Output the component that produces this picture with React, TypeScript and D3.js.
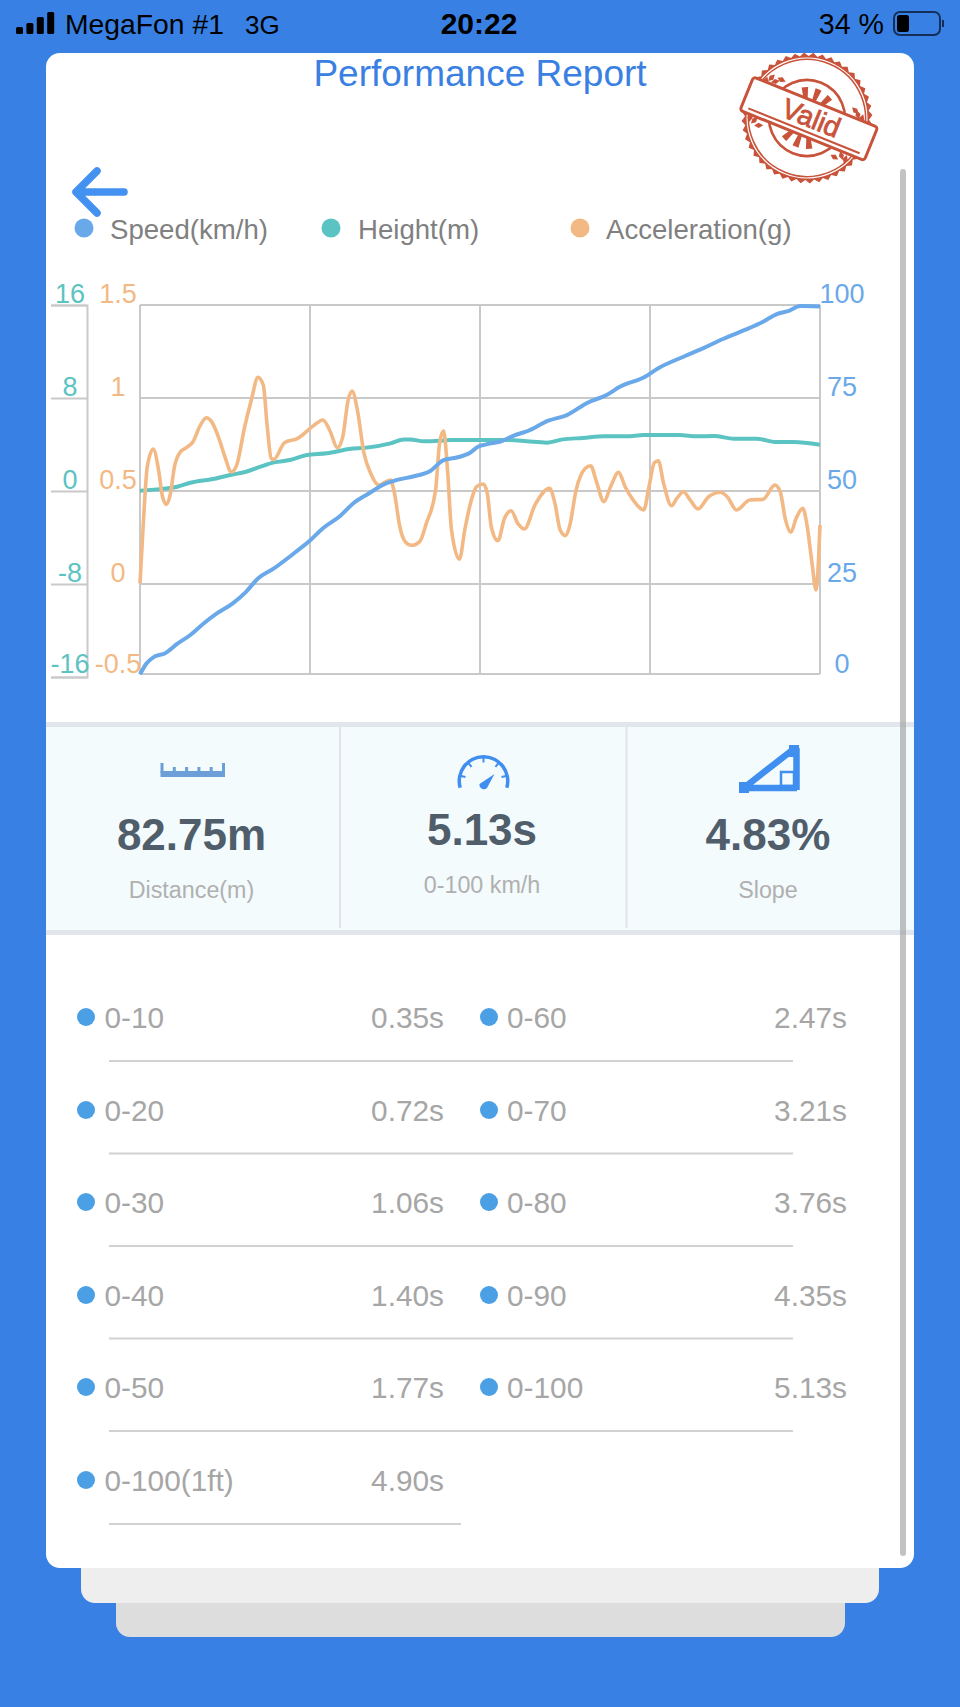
import * as d3 from 'd3';
import React, { useEffect, useRef } from 'react';

const speedTime = [0, 0.05, 0.11, 0.19, 0.28, 0.38, 0.48, 0.58, 0.7, 0.8, 0.89, 1.01, 1.16, 1.28, 1.38, 1.51, 1.61, 1.72, 1.86, 1.94, 2.06, 2.19, 2.29, 2.39, 2.49, 2.55, 2.62, 2.72, 2.82, 2.93, 3.08, 3.22, 3.38, 3.52, 3.62, 3.81, 3.91, 4.1, 4.25, 4.38, 4.55, 4.7, 4.8, 4.9, 4.98, 5.13];
const speedValues = [0.7, 3.7, 5.5, 6.4, 8.9, 11.3, 14.4, 17.1, 19.8, 22.9, 26.5, 29.2, 33.2, 36.6, 40, 43.3, 46.7, 49.2, 52.1, 53, 53.9, 55.4, 58.3, 59, 60.3, 61.9, 62.6, 63.3, 64.9, 66.2, 68.9, 70.4, 73.8, 75.8, 78, 80.7, 83, 86.1, 88.4, 90.6, 93.1, 95.5, 97.5, 98.5, 99.7, 99.6];

const heightTime = [0, 0.13, 0.28, 0.38, 0.55, 0.68, 0.8, 0.91, 1.01, 1.13, 1.26, 1.41, 1.58, 1.71, 1.89, 1.99, 2.04, 2.14, 2.26, 2.34, 2.55, 2.62, 2.79, 2.92, 3.07, 3.19, 3.34, 3.5, 3.67, 3.8, 4.07, 4.2, 4.33, 4.48, 4.65, 4.8, 4.93, 5.13];
const heightValues = [0.03, 0.14, 0.37, 0.71, 1.03, 1.37, 1.66, 2.09, 2.46, 2.66, 3.09, 3.24, 3.61, 3.73, 4.1, 4.44, 4.44, 4.27, 4.33, 4.38, 4.38, 4.38, 4.38, 4.27, 4.16, 4.44, 4.56, 4.7, 4.7, 4.81, 4.81, 4.7, 4.73, 4.5, 4.5, 4.21, 4.21, 3.98];

const accelTime = [0, 0.025, 0.055, 0.1, 0.14, 0.17, 0.2, 0.23, 0.26, 0.3, 0.35, 0.4, 0.45, 0.5, 0.54, 0.6, 0.64, 0.69, 0.73, 0.79, 0.84, 0.89, 0.93, 0.96, 0.99, 1.01, 1.09, 1.19, 1.3, 1.38, 1.43, 1.49, 1.53, 1.57, 1.6, 1.64, 1.69, 1.74, 1.8, 1.89, 1.92, 1.96, 2, 2.05, 2.11, 2.16, 2.23, 2.26, 2.29, 2.32, 2.35, 2.41, 2.45, 2.5, 2.54, 2.59, 2.62, 2.65, 2.7, 2.75, 2.8, 2.85, 2.9, 2.98, 3.09, 3.13, 3.17, 3.21, 3.24, 3.29, 3.36, 3.4, 3.44, 3.5, 3.55, 3.61, 3.66, 3.72, 3.8, 3.84, 3.88, 3.91, 3.95, 4.01, 4.05, 4.1, 4.15, 4.21, 4.29, 4.38, 4.43, 4.5, 4.6, 4.7, 4.79, 4.83, 4.87, 4.91, 4.95, 5, 5.03, 5.07, 5.1, 5.13];
const accelValues = [0.004, 0.326, 0.631, 0.726, 0.613, 0.469, 0.428, 0.487, 0.631, 0.706, 0.733, 0.765, 0.846, 0.894, 0.873, 0.774, 0.685, 0.602, 0.64, 0.846, 0.989, 1.111, 1.07, 0.846, 0.676, 0.67, 0.76, 0.783, 0.846, 0.882, 0.828, 0.733, 0.792, 0.989, 1.038, 0.935, 0.702, 0.595, 0.532, 0.559, 0.487, 0.308, 0.228, 0.208, 0.228, 0.326, 0.505, 0.756, 0.824, 0.613, 0.29, 0.133, 0.29, 0.452, 0.523, 0.538, 0.487, 0.308, 0.233, 0.353, 0.394, 0.326, 0.296, 0.425, 0.514, 0.434, 0.29, 0.26, 0.308, 0.505, 0.622, 0.636, 0.559, 0.443, 0.523, 0.6, 0.523, 0.452, 0.398, 0.523, 0.652, 0.663, 0.541, 0.421, 0.46, 0.496, 0.452, 0.403, 0.469, 0.493, 0.469, 0.398, 0.452, 0.455, 0.532, 0.496, 0.344, 0.278, 0.353, 0.407, 0.326, 0.111, -0.032, 0.317];

const timeTicks = [0, 1.2825, 2.565, 3.8475, 5.13];
const speedTicks = [0, 25, 50, 75, 100];
const heightTicks = [-16, -8, 0, 8, 16];
const accelTicks = [-0.5, 0, 0.5, 1, 1.5];

const legendLabels = ['Speed(km/h)', 'Height(m)', 'Acceleration(g)'];
const statValues = ['82.75m', '5.13s', '4.83%'];
const statLabels = ['Distance(m)', '0-100 km/h', 'Slope'];
const leftSplits = ['0-10', '0-20', '0-30', '0-40', '0-50', '0-100(1ft)'];
const leftTimes = ['0.35s', '0.72s', '1.06s', '1.40s', '1.77s', '4.90s'];
const rightSplits = ['0-60', '0-70', '0-80', '0-90', '0-100'];
const rightTimes = ['2.47s', '3.21s', '3.76s', '4.35s', '5.13s'];

const FONT = '"Liberation Sans", Arial, sans-serif';
const SPEED = '#6aa9e9';
const HEIGHT = '#5cc3c3';
const ACCEL = '#f3b985';
const GRID = '#c9c9c9';
const RUST = '#c8533a';
const ICON = '#3f8ef0';

const plot = { left: 140, right: 820, top: 305, bottom: 674, scaleBottom: 677 };

export default function App(): React.JSX.Element {
	const ref = useRef<SVGSVGElement | null>(null);

	useEffect(() => {
		if (ref.current === null) return;
		const svg = d3.select(ref.current);
		svg.selectAll('*').remove();

		const addText = (parent: any, x: number, y: number, text: string, size: number, fill: string, anchor = 'start', weight = 'normal') =>
			parent.append('text')
				.attr('x', x)
				.attr('y', y)
				.attr('font-size', size)
				.attr('fill', fill)
				.attr('text-anchor', anchor)
				.attr('font-weight', weight)
				.text(text);

		// page + stacked cards
		svg.append('rect').attr('width', 960).attr('height', 1707).attr('fill', '#3880e4');
		svg.append('rect').attr('x', 116).attr('y', 1560).attr('width', 729).attr('height', 77).attr('rx', 14).attr('fill', '#dddddd');
		svg.append('rect').attr('x', 81).attr('y', 1530).attr('width', 798).attr('height', 73).attr('rx', 14).attr('fill', '#eeeeee');
		svg.append('rect').attr('x', 46).attr('y', 53).attr('width', 868).attr('height', 1515).attr('rx', 14).attr('fill', '#ffffff');

		const defs = svg.append('defs');
		defs.append('clipPath').attr('id', 'card-clip')
			.append('rect').attr('x', 46).attr('y', 53).attr('width', 868).attr('height', 1515);

		// status bar
		const signal = [27, 23, 17, 12];
		svg.selectAll('rect.signal').data(signal).enter().append('rect')
			.attr('class', 'signal')
			.attr('x', (_, i) => 16 + i * 10.4)
			.attr('y', (d) => d)
			.attr('width', 7)
			.attr('height', (d) => 34 - d)
			.attr('rx', 1.5)
			.attr('fill', '#000');
		addText(svg, 65, 34, 'MegaFon #1', 28.3, '#000');
		addText(svg, 245, 34, '3G', 26, '#000');
		addText(svg, 479, 34, '20:22', 30, '#000', 'middle', 'bold');
		addText(svg, 884, 34, '34 %', 28.6, '#000', 'end');
		svg.append('rect').attr('x', 894).attr('y', 12).attr('width', 46).attr('height', 23).attr('rx', 6).attr('fill', 'none').attr('stroke', '#14305a').attr('stroke-width', 2);
		svg.append('rect').attr('x', 897).attr('y', 15).attr('width', 12).attr('height', 17).attr('rx', 2.5).attr('fill', '#000');
		svg.append('rect').attr('x', 942).attr('y', 20).attr('width', 2).attr('height', 7).attr('fill', '#14305a');

		addText(svg, 480, 86, 'Performance Report', 37, '#3a80e2', 'middle');

		// stamp
		const stamp = svg.append('g').attr('clip-path', 'url(#card-clip)')
			.append('g').attr('transform', 'translate(807,118) rotate(22)');
		const teeth = d3.range(0, 88);
		stamp.append('path')
			.attr('d', d3.lineRadial<number>()
				.angle((d) => (d / 88) * 2 * Math.PI)
				.radius((d) => (d % 2 === 0 ? 65.5 : 62))
				.curve(d3.curveLinearClosed)(teeth))
			.attr('fill', RUST);
		stamp.append('circle').attr('r', 60.5).attr('fill', '#fff');
		stamp.append('circle').attr('r', 58.5).attr('fill', 'none').attr('stroke', RUST).attr('stroke-width', 1.5);
		stamp.append('circle').attr('r', 38).attr('fill', 'none').attr('stroke', RUST).attr('stroke-width', 2.6);
		const rayArc = d3.arc<number>()
			.innerRadius(18)
			.outerRadius(31)
			.startAngle((d) => ((d - 6) * Math.PI) / 180)
			.endAngle((d) => ((d + 6) * Math.PI) / 180);
		stamp.selectAll('path.ray').data([-26, 0, 26, 154, 180, 206]).enter().append('path')
			.attr('class', 'ray')
			.attr('d', (d) => rayArc(d))
			.attr('fill', RUST);
		const flecks = [[-48, -24], [-43, -22], [-38, -26], [-52, -19], [46, -22], [51, -20], [42, -25], [-48, 22], [-53, 21], [-42, 25], [46, 22], [40, 26], [51, 24]];
		stamp.selectAll('path.fleck').data(flecks).enter().append('path')
			.attr('class', 'fleck')
			.attr('transform', (d) => `translate(${d[0]},${d[1]}) rotate(${d[0] * 7})`)
			.attr('d', d3.symbol().type(d3.symbolDiamond).size(24)())
			.attr('fill', RUST);
		stamp.append('rect').attr('x', -65).attr('y', -18).attr('width', 134).attr('height', 36).attr('rx', 3).attr('fill', '#fff').attr('stroke', RUST).attr('stroke-width', 3);
		stamp.append('line').attr('x1', -58).attr('x2', 62).attr('y1', 13).attr('y2', 13).attr('stroke', RUST).attr('stroke-width', 2);
		addText(stamp, 4, 8, 'Valid', 28, RUST, 'middle').attr('stroke', RUST).attr('stroke-width', 0.8);

		// back arrow
		svg.append('path')
			.attr('d', 'M124,192 H76 M97,171 L76,192 L97,213')
			.attr('fill', 'none')
			.attr('stroke', '#4391f0')
			.attr('stroke-width', 7.5)
			.attr('stroke-linecap', 'round')
			.attr('stroke-linejoin', 'round');

		// legend
		const legendDot = [84, 331, 580];
		const legendText = [110, 358, 606];
		const legendColor = [SPEED, HEIGHT, ACCEL];
		legendLabels.forEach((label, i) => {
			svg.append('circle').attr('cx', legendDot[i]).attr('cy', 228).attr('r', 9.5).attr('fill', legendColor[i]);
			addText(svg, legendText[i], 239, label, 27.6, '#808080');
		});

		// chart
		const xScale = d3.scaleLinear().domain([0, 5.13]).range([plot.left, plot.right]);
		const speedScale = d3.scaleLinear().domain([0, 100]).range([plot.scaleBottom, plot.top]);
		const heightScale = d3.scaleLinear().domain([-16, 16]).range([plot.scaleBottom, plot.top]);
		const accelScale = d3.scaleLinear().domain([-0.5, 1.5]).range([plot.scaleBottom, plot.top]);

		const chart = svg.append('g').attr('font-family', FONT);
		chart.selectAll('line.vgrid').data(timeTicks).enter().append('line')
			.attr('class', 'vgrid')
			.attr('x1', (d) => xScale(d))
			.attr('x2', (d) => xScale(d))
			.attr('y1', plot.top)
			.attr('y2', plot.bottom)
			.attr('stroke', GRID)
			.attr('stroke-width', 2);
		chart.selectAll('line.hgrid').data(speedTicks.slice(1)).enter().append('line')
			.attr('class', 'hgrid')
			.attr('x1', plot.left)
			.attr('x2', plot.right)
			.attr('y1', (d) => speedScale(d))
			.attr('y2', (d) => speedScale(d))
			.attr('stroke', GRID)
			.attr('stroke-width', 2);
		chart.append('line')
			.attr('x1', plot.left).attr('x2', plot.right)
			.attr('y1', plot.bottom).attr('y2', plot.bottom)
			.attr('stroke', GRID).attr('stroke-width', 2);

		// height axis sits apart from the plot on the left
		const heightAxis = chart.append('g')
			.attr('transform', 'translate(87,0)')
			.call(d3.axisLeft(heightScale).tickValues(heightTicks).tickSize(36).tickFormat((d) => String(d)));
		heightAxis.select('.domain').attr('stroke', GRID).attr('stroke-width', 2);
		heightAxis.selectAll('.tick line').attr('stroke', GRID).attr('stroke-width', 2);
		heightAxis.selectAll('.tick text')
			.attr('x', -17)
			.attr('y', (d) => (d === -16 ? -5 : -3))
			.attr('dy', 0)
			.attr('text-anchor', 'middle')
			.attr('font-size', 27)
			.attr('font-family', FONT)
			.attr('fill', HEIGHT);

		const accelAxis = chart.append('g')
			.attr('transform', 'translate(118,0)')
			.call(d3.axisLeft(accelScale).tickValues(accelTicks).tickSize(0).tickFormat((d) => String(d)));
		accelAxis.select('.domain').remove();
		accelAxis.selectAll('.tick text')
			.attr('x', 0)
			.attr('y', (d) => (d === -0.5 ? -5 : -3))
			.attr('dy', 0)
			.attr('text-anchor', 'middle')
			.attr('font-size', 27)
			.attr('font-family', FONT)
			.attr('fill', ACCEL);

		const speedAxis = chart.append('g')
			.attr('transform', 'translate(842,0)')
			.call(d3.axisRight(speedScale).tickValues(speedTicks).tickSize(0).tickFormat((d) => String(d)));
		speedAxis.select('.domain').remove();
		speedAxis.selectAll('.tick text')
			.attr('x', 0)
			.attr('y', (d) => (d === 0 ? -5 : -3))
			.attr('dy', 0)
			.attr('text-anchor', 'middle')
			.attr('font-size', 27)
			.attr('font-family', FONT)
			.attr('fill', SPEED);

		const drawSeries = (time: number[], values: number[], scale: d3.ScaleLinear<number, number>, color: string, width: number) => {
			const line = d3.line<number>()
				.x((_, i) => xScale(time[i]))
				.y((d) => scale(d))
				.curve(d3.curveMonotoneX);
			chart.append('path')
				.attr('d', line(values))
				.attr('fill', 'none')
				.attr('stroke', color)
				.attr('stroke-width', width)
				.attr('stroke-linejoin', 'round');
		};
		drawSeries(heightTime, heightValues, heightScale, HEIGHT, 4);
		drawSeries(accelTime, accelValues, accelScale, ACCEL, 3.6);
		drawSeries(speedTime, speedValues, speedScale, SPEED, 4);

		// stats band
		svg.append('rect').attr('x', 46).attr('y', 724).attr('width', 868).attr('height', 209).attr('fill', '#f3fbfd');
		[724.5, 932.5].forEach((y) => {
			svg.append('line').attr('x1', 46).attr('x2', 914).attr('y1', y).attr('y2', y).attr('stroke', '#e0e6ec').attr('stroke-width', 5);
		});
		[340, 626.5].forEach((x) => {
			svg.append('line').attr('x1', x).attr('x2', x).attr('y1', 727).attr('y2', 928).attr('stroke', '#dfe5ea').attr('stroke-width', 2);
		});
		const statX = [191.5, 482, 768];
		const statBase = [850, 845, 850];
		const labelBase = [898, 893, 898];
		statValues.forEach((value, i) => {
			addText(svg, statX[i], statBase[i], value, 44, '#505d6b', 'middle', 'bold');
			addText(svg, statX[i], labelBase[i], statLabels[i], 23.3, '#b0b0b0', 'middle');
		});

		// ruler icon
		const rulerTicks = d3.range(0, 6);
		svg.append('rect').attr('x', 160.5).attr('y', 771).attr('width', 64.5).attr('height', 6).attr('fill', '#6c9fd8');
		svg.selectAll('rect.ruler').data(rulerTicks).enter().append('rect')
			.attr('class', 'ruler')
			.attr('x', (d) => 160.5 + d * 12.3)
			.attr('y', (d) => (d === 0 || d === 5 ? 763 : 767))
			.attr('width', 3)
			.attr('height', (d) => (d === 0 || d === 5 ? 10 : 6))
			.attr('fill', '#6c9fd8');

		// gauge icon
		const gauge = svg.append('g').attr('transform', 'translate(483.5,781)');
		gauge.append('path')
			.attr('d', d3.arc()({ innerRadius: 22.5, outerRadius: 26, startAngle: -1.85, endAngle: 1.85 }))
			.attr('fill', ICON);
		gauge.selectAll('line').data([-1.35, -0.7, 0, 0.7, 1.35]).enter().append('line')
			.attr('x1', (d) => 23 * Math.sin(d))
			.attr('y1', (d) => -23 * Math.cos(d))
			.attr('x2', (d) => 18.5 * Math.sin(d))
			.attr('y2', (d) => -18.5 * Math.cos(d))
			.attr('stroke', ICON)
			.attr('stroke-width', 2);
		gauge.append('path').attr('d', 'M-4,3 L11,-7 L3.5,7 A4.5,4.5 0 0 1 -4,3 Z').attr('fill', ICON);

		// slope icon
		svg.append('path')
			.attr('d', 'M745,787 L795,748 M745,788 H797 M796.5,748 V790')
			.attr('fill', 'none').attr('stroke', ICON).attr('stroke-width', 6.5);
		svg.append('rect').attr('x', 739).attr('y', 782).attr('width', 10).attr('height', 11).attr('fill', ICON);
		svg.append('rect').attr('x', 789).attr('y', 745).attr('width', 10).attr('height', 12).attr('fill', ICON);
		svg.append('rect').attr('x', 781).attr('y', 772).attr('width', 13).attr('height', 14).attr('fill', 'none').attr('stroke', ICON).attr('stroke-width', 2.5);

		// split times, the rule under a row spans both columns
		const rowY = [1017, 1110, 1202, 1295, 1387, 1480];
		const rowLine = [1061, 1153.5, 1246, 1338.5, 1431, 1524];
		const drawColumn = (labels: string[], times: string[], dotX: number, textX: number, endX: number) => {
			labels.forEach((label, i) => {
				svg.append('circle').attr('cx', dotX).attr('cy', rowY[i]).attr('r', 9).attr('fill', '#4a9fe5');
				addText(svg, textX, rowY[i] + 11, label, 29.8, '#a6a6a6');
				addText(svg, endX, rowY[i] + 11, times[i], 29.8, '#a6a6a6', 'end');
			});
		};
		drawColumn(leftSplits, leftTimes, 86, 104.5, 444);
		drawColumn(rightSplits, rightTimes, 489, 507, 847);
		rowLine.forEach((y, i) => {
			svg.append('line')
				.attr('x1', 109)
				.attr('x2', i < rightSplits.length ? 793 : 461)
				.attr('y1', y)
				.attr('y2', y)
				.attr('stroke', '#d2d2d2')
				.attr('stroke-width', 2);
		});

		// scrollbar
		svg.append('rect').attr('x', 900).attr('y', 169).attr('width', 6).attr('height', 1387).attr('rx', 3).attr('fill', '#9a9a9a').attr('fill-opacity', 0.6);
	}, []);

	return (
		<svg
			ref={ref}
			width={960}
			height={1707}
			fontFamily={FONT}
			style={{ position: 'absolute', left: 0, top: 0, display: 'block' }}
		/>
	);
}
